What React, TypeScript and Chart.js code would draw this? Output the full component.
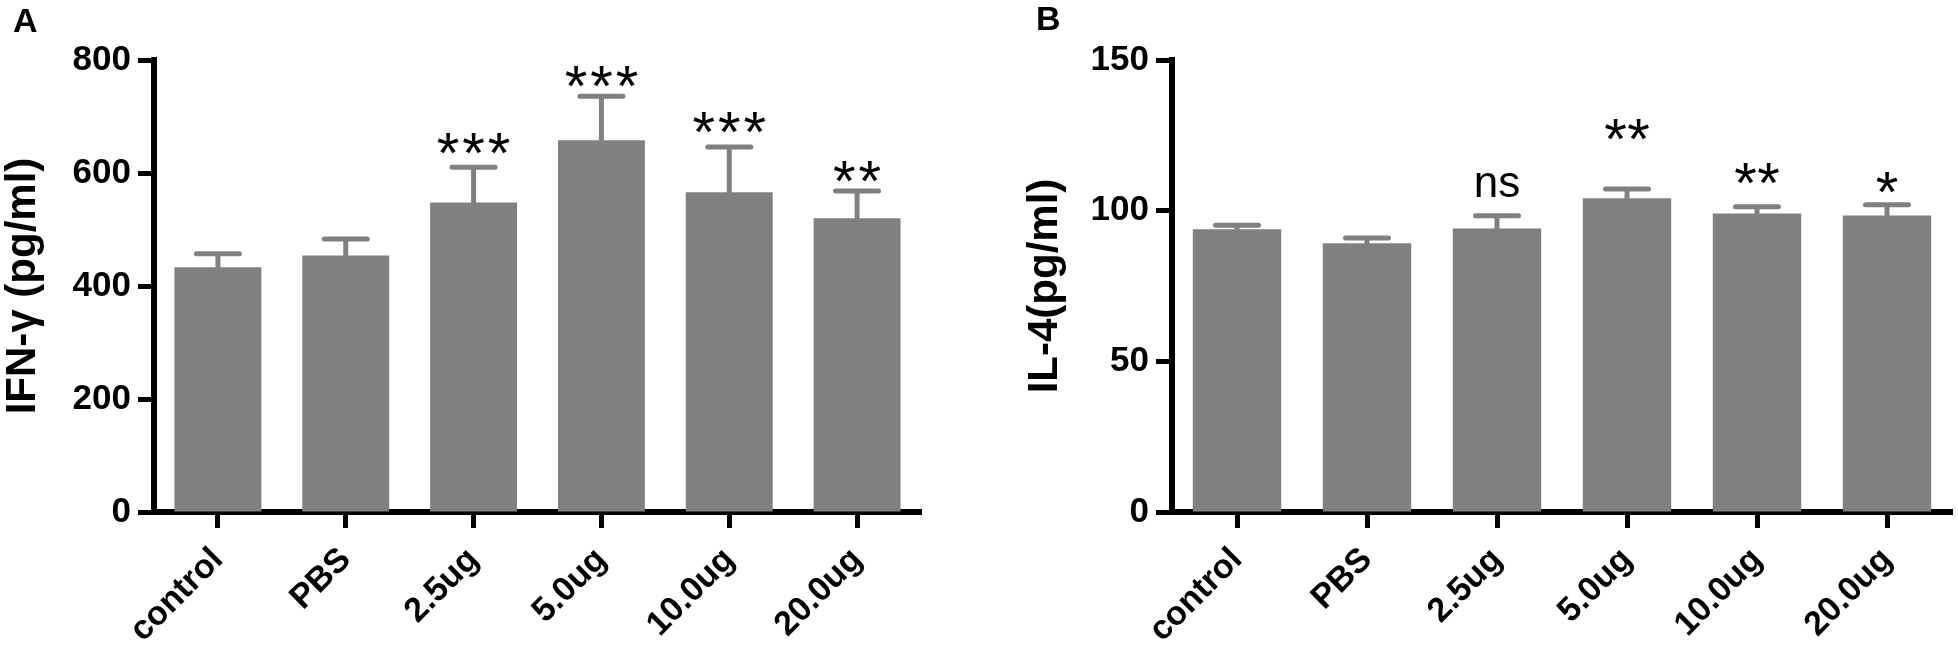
import React, { useEffect, useRef } from 'react';
import { Chart, registerables } from 'chart.js';

Chart.register(...registerables);

// ---------- data ----------
const categories = ['control', 'PBS', '2.5ug', '5.0ug', '10.0ug', '20.0ug'];

const ifnMean = [433, 454, 548, 658, 566, 520];
const ifnErr = [24, 29, 62, 78, 80, 48];
const ifnSig = ['', '', '***', '***', '***', '**'];
const ifnSigAt = [null, null, 653, 770, 690, 602];
const ifnTicks = { min: 0, max: 800, step: 200 };

const il4Mean = [93.8, 89.2, 94.1, 104.1, 99.1, 98.4];
const il4Err = [1.4, 1.7, 4.2, 3.1, 2.2, 3.6];
const il4Sig = ['', '', 'ns', '**', '**', '*'];
const il4SigAt = [null, null, 108.5, 127.1, 112.5, 109.5];
const il4Ticks = { min: 0, max: 150, step: 50 };

// ---------- styles ----------
const FONT = "'Liberation Sans', Arial, Helvetica, sans-serif";
const GREY = '#808080';
const H = 647;

type PanelProps = {
  left: number;
  width: number;
  letter: string;
  letterX: number;
  letterBaseline: number;
  yTitle: string;
  means: number[];
  errs: number[];
  sig: string[];
  sigAt: (number | null)[];
  ticks: { min: number; max: number; step: number };
  yAxisWidth: number;
  padRight: number;
  starPitch: number;
};

function Panel(p: PanelProps) {
  const ref = useRef<HTMLCanvasElement>(null);

  useEffect(() => {
    const canvas = ref.current!;
    const extras = {
      id: 'extras',
      afterDatasetsDraw(chart: any) {
        const ctx = chart.ctx as CanvasRenderingContext2D;
        const meta = chart.getDatasetMeta(0);
        const y = chart.scales.y;
        ctx.save();
        ctx.strokeStyle = GREY;
        ctx.lineWidth = 5;
        meta.data.forEach((bar: any, i: number) => {
          const x = bar.x;
          const top = y.getPixelForValue(p.means[i]);
          const capY = y.getPixelForValue(p.means[i] + p.errs[i]);
          ctx.lineCap = 'butt';
          ctx.beginPath();
          ctx.moveTo(x, top + 2);
          ctx.lineTo(x, capY);
          ctx.stroke();
          ctx.lineCap = 'round';
          ctx.beginPath();
          ctx.moveTo(x - 21.5, capY);
          ctx.lineTo(x + 21.5, capY);
          ctx.stroke();
        });
        // significance labels
        ctx.fillStyle = '#000';
        ctx.textAlign = 'center';
        ctx.textBaseline = 'alphabetic';
        meta.data.forEach((bar: any, i: number) => {
          const txt = p.sig[i];
          const lvl = p.sigAt[i];
          if (!txt || lvl == null) return;
          const cy = y.getPixelForValue(lvl);
          if (/^\*+$/.test(txt)) {
            ctx.font = `58px ${FONT}`;
            const m = ctx.measureText('*');
            const base = cy + (m.actualBoundingBoxAscent - m.actualBoundingBoxDescent) / 2;
            const n = txt.length;
            for (let k = 0; k < n; k++) {
              ctx.fillText('*', bar.x + (k - (n - 1) / 2) * p.starPitch, base);
            }
          } else {
            ctx.font = `44px ${FONT}`;
            const m = ctx.measureText(txt);
            const base = cy + (m.actualBoundingBoxAscent - m.actualBoundingBoxDescent) / 2;
            ctx.fillText(txt, bar.x, base);
          }
        });
        ctx.restore();
      },
      afterDraw(chart: any) {
        const ctx = chart.ctx as CanvasRenderingContext2D;
        ctx.save();
        ctx.fillStyle = '#000';
        ctx.font = `bold 34px ${FONT}`;
        ctx.textAlign = 'left';
        ctx.textBaseline = 'alphabetic';
        ctx.fillText(p.letter, p.letterX, p.letterBaseline);
        ctx.restore();
      },
    };

    const chart = new Chart(canvas, {
      type: 'bar',
      data: {
        labels: categories,
        datasets: [
          {
            data: p.means,
            backgroundColor: GREY,
            borderWidth: 0,
            barPercentage: 0.68,
            categoryPercentage: 1,
          },
        ],
      },
      options: {
        responsive: false,
        animation: false,
        events: [],
        layout: { padding: { left: 0, top: 60, right: p.padRight, bottom: 0 } },
        plugins: {
          legend: { display: false },
          tooltip: { enabled: false },
          title: { display: false },
        },
        scales: {
          x: {
            offset: true,
            grid: {
              offset: false,
              drawOnChartArea: false,
              drawTicks: true,
              tickLength: 16,
              tickWidth: 5,
              tickColor: '#000',
            },
            border: { display: true, color: '#000', width: 6 },
            ticks: {
              autoSkip: false,
              maxRotation: 45,
              minRotation: 45,
              padding: 12,
              color: '#000',
              font: { family: FONT, size: 34, weight: 'bold' },
            },
            afterFit(scale: any) {
              scale.height = H - 512;
            },
          },
          y: {
            min: p.ticks.min,
            max: p.ticks.max,
            grid: {
              drawOnChartArea: false,
              drawTicks: true,
              tickLength: 16,
              tickWidth: 5,
              tickColor: '#000',
            },
            border: { display: true, color: '#000', width: 6 },
            ticks: {
              stepSize: p.ticks.step,
              padding: 7,
              color: '#000',
              font: { family: FONT, size: 35, weight: 'bold' },
            },
            title: {
              display: true,
              text: p.yTitle,
              color: '#000',
              padding: { top: 0, bottom: 0 },
              font: { family: FONT, size: 42, weight: 'bold', lineHeight: 1.12 },
            },
            afterFit(scale: any) {
              scale.width = p.yAxisWidth;
            },
          },
        },
      } as any,
      plugins: [extras],
    });
    return () => chart.destroy();
  }, []);

  return (
    <div style={{ position: 'absolute', left: p.left, top: 0, width: p.width, height: H }}>
      <canvas ref={ref} width={p.width} height={H} style={{ display: 'block', width: p.width, height: H }} />
    </div>
  );
}

export default function App() {
  return (
    <div
      style={{
        position: 'fixed',
        left: 0,
        top: 0,
        width: 1958,
        height: H,
        background: '#fff',
        overflow: 'hidden',
      }}
    >
      <Panel
        left={0}
        width={980}
        letter="A"
        letterX={13}
        letterBaseline={32}
        yTitle="IFN-γ (pg/ml)"
        means={ifnMean}
        errs={ifnErr}
        sig={ifnSig}
        sigAt={ifnSigAt}
        ticks={ifnTicks}
        yAxisWidth={154}
        padRight={980 - 921}
        starPitch={25.5}
      />
      <Panel
        left={1022}
        width={936}
        letter="B"
        letterX={14}
        letterBaseline={30}
        yTitle="IL-4(pg/ml)"
        means={il4Mean}
        errs={il4Err}
        sig={il4Sig}
        sigAt={il4SigAt}
        ticks={il4Ticks}
        yAxisWidth={150}
        padRight={6}
        starPitch={23}
      />
    </div>
  );
}
